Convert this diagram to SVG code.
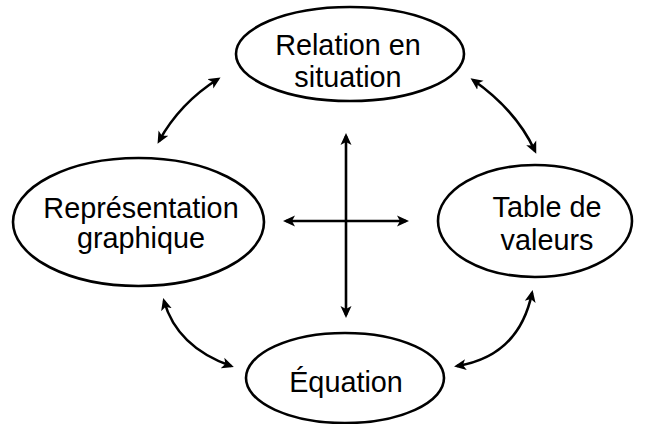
<svg xmlns="http://www.w3.org/2000/svg" width="655" height="424" viewBox="0 0 655 424">
<style>
  .node ellipse { fill: #fff; stroke: #000; stroke-width: 2.6; }
  .node text { font-family: "Liberation Sans", Arial, sans-serif; font-size: 28.8px; fill: #000; text-anchor: middle; }
  .conn path { fill: none; stroke: #000; stroke-width: 2.6; marker-start: url(#ah); marker-end: url(#ah); }
</style>
<defs>
  <marker id="ah" viewBox="0 0 12 12" refX="9" refY="6" markerWidth="12" markerHeight="12" markerUnits="userSpaceOnUse" orient="auto-start-reverse">
    <path d="M0,0.5 L12,6 L0,11.5 L3,6 Z" fill="#000"/>
  </marker>
</defs>
<rect width="655" height="424" fill="#fff"/>
<g id="connectors" class="conn">
  <path d="M159,141 Q180,103 218,79"/>
  <path d="M473,80 Q516,110 535,151"/>
  <path d="M164,301 Q177,347 231,366"/>
  <path d="M532,293 Q519,356 457,366"/>
  <path d="M346,136 L346,315"/>
  <path d="M286,221 L406,221"/>
</g>
<g id="node-relation" class="node">
  <ellipse cx="350" cy="54" rx="114" ry="47"/>
  <text x="348" y="55">Relation en</text>
  <text x="348" y="87">situation</text>
</g>
<g id="node-representation" class="node">
  <ellipse cx="138.5" cy="222" rx="125.5" ry="64"/>
  <text x="141" y="218">Représentation</text>
  <text x="141" y="248">graphique</text>
</g>
<g id="node-table" class="node">
  <ellipse cx="535" cy="221" rx="97" ry="56"/>
  <text x="547" y="217">Table de</text>
  <text x="547" y="250">valeurs</text>
</g>
<g id="node-equation" class="node">
  <ellipse cx="345" cy="378" rx="99" ry="45"/>
  <text x="346" y="392">Équation</text>
</g>
</svg>
